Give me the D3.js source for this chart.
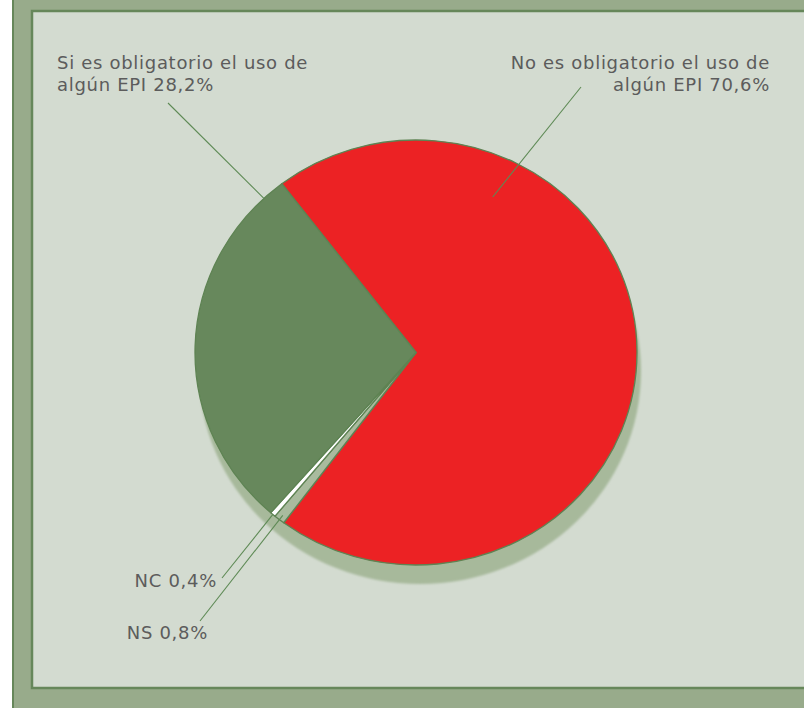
<!DOCTYPE html>
<html>
<head>
<meta charset="utf-8">
<script src="https://cdn.jsdelivr.net/npm/d3@7"></script>
<style>
  html, body { margin: 0; padding: 0; background: #ffffff; }
  svg { display: block; }
</style>
</head>
<body>
<svg id="chart" width="804" height="708"></svg>
<script>
// ---- data ----
const categories = ["No es obligatorio el uso de algún EPI", "NS", "NC", "Si es obligatorio el uso de algún EPI"];
const values = [70.6, 0.8, 0.4, 28.2];
const labelLines = [
  ["No es obligatorio el uso de", "algún EPI 70,6%"],
  ["NS 0,8%"],
  ["NC 0,4%"],
  ["Si es obligatorio el uso de", "algún EPI 28,2%"]
];
const colors = ["#ec2224", "#a9bb9e", "#ffffff", "#67885c"];

// ---- layout ----
const svg = d3.select("#chart");
const W = 804, H = 708;
const cx = 416, cy = 352.5, rx = 221, ry = 212.5;
const startDeg = -37.4;

// outer frame
svg.append("rect").attr("x", 13).attr("y", -10).attr("width", 820).attr("height", 740)
  .attr("fill", "#98ab8b").attr("stroke", "#66875a").attr("stroke-width", 2);
// inner panel
svg.append("rect").attr("x", 32).attr("y", 11).attr("width", 800).attr("height", 677)
  .attr("fill", "#d3dbd0").attr("stroke", "#66875a").attr("stroke-width", 2.5);

const pie = d3.pie().sort(null).value(d => d)
  .startAngle(startDeg * Math.PI / 180)
  .endAngle((startDeg + 360) * Math.PI / 180);
const arcs = pie(values);
const arc = d3.arc().innerRadius(0).outerRadius(rx);

// shadow
const defs = svg.append("defs");
defs.append("filter").attr("id", "blur").attr("x", "-10%").attr("y", "-10%").attr("width", "120%").attr("height", "120%")
  .append("feGaussianBlur").attr("stdDeviation", 1.2);
svg.append("ellipse").attr("cx", cx + 4).attr("cy", cy + 19).attr("rx", rx).attr("ry", ry)
  .attr("fill", "#a7b99b").attr("filter", "url(#blur)");

const g = svg.append("g").attr("transform", `translate(${cx},${cy}) scale(1,${ry / rx})`);
g.selectAll("path.slice").data(arcs).enter().append("path")
  .attr("class", "slice")
  .attr("d", arc)
  .attr("fill", (d, i) => colors[i])
  .attr("stroke", "#5e8353")
  .attr("stroke-width", 1.3)
  .attr("vector-effect", "non-scaling-stroke")
  .attr("stroke-linejoin", "round");

// leader lines & labels (anchor: fraction along slice, radius factor; text placement)
const labelLayout = [
  { frac: 0.247, rf: 0.81, tx: 770, ty: 69, lx: 581, ly: 87, anchor: "end" },
  { frac: 0.5, rf: 0.975, tx: 208, ty: 639, lx: 200, ly: 621, anchor: "end" },
  { frac: 0.5, rf: 1.0, tx: 217, ty: 587, lx: 222, ly: 578, anchor: "end" },
  { frac: 0.94, rf: 1.0, tx: 57, ty: 69, lx: 168, ly: 103, anchor: "start" }
];
const lh = 21.5;

arcs.forEach((d, i) => {
  const L = labelLayout[i];
  const a = d.startAngle + (d.endAngle - d.startAngle) * L.frac;
  const px = cx + Math.sin(a) * rx * L.rf;
  const py = cy - Math.cos(a) * ry * L.rf;
  svg.append("line")
    .attr("x1", L.lx).attr("y1", L.ly).attr("x2", px).attr("y2", py)
    .attr("stroke", "#5e8a55").attr("stroke-width", 1.1);
  const t = svg.append("text")
    .attr("x", L.tx).attr("y", L.ty)
    .attr("text-anchor", L.anchor)
    .attr("font-family", "'DejaVu Sans', Verdana, sans-serif")
    .attr("font-size", 18)
    .attr("letter-spacing", 0.7)
    .attr("fill", "#5c5c5c");
  labelLines[i].forEach((s, k) => {
    t.append("tspan").attr("x", L.tx).attr("y", L.ty + k * lh).text(s);
  });
});
</script>
</body>
</html>
